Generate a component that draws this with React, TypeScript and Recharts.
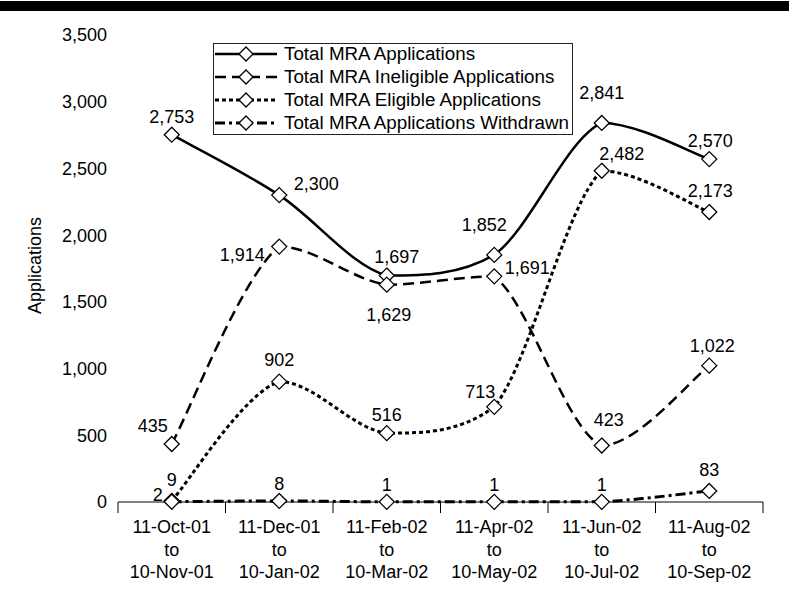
import { Legend, LabelList, Line, LineChart, XAxis, YAxis } from "recharts";

const periodStarts = ["11-Oct-01", "11-Dec-01", "11-Feb-02", "11-Apr-02", "11-Jun-02", "11-Aug-02"];
const periodEnds = ["10-Nov-01", "10-Jan-02", "10-Mar-02", "10-May-02", "10-Jul-02", "10-Sep-02"];

const totalApps = [2753, 2300, 1697, 1852, 2841, 2570];
const ineligibleApps = [435, 1914, 1629, 1691, 423, 1022];
const eligibleApps = [9, 902, 516, 713, 2482, 2173];
const withdrawnApps = [2, 8, 1, 1, 1, 83];

const yTicks = [0, 500, 1000, 1500, 2000, 2500, 3000, 3500];

const data = periodStarts.map((_, i) => ({
  idx: i,
  total: totalApps[i],
  ineligible: ineligibleApps[i],
  eligible: eligibleApps[i],
  withdrawn: withdrawnApps[i],
}));

// ticks at the category centres (labels) and at the boundaries (tick marks)
const xTicks = periodStarts.flatMap((_, i) => [i - 0.5, i]).concat(periodStarts.length - 0.5);

const FONT = "'Liberation Sans', Arial, sans-serif";

// label offsets from the point
const totalOffsets = [[0, -18], [37, -11], [10, -19], [-10, -30], [0, -30], [1, -18]];
const ineligibleOffsets = [[-19, -18], [-37, 8], [2, 30], [33, -8], [7, -26], [3, -20]];
const eligibleOffsets = [[0, -21], [0, -22], [0, -18], [-14, -15], [20, -17], [1, -21]];
const withdrawnOffsets = [[-14, -7], [0, -17], [0, -17], [0, -17], [0, -17], [0, -21]];

const series = [
  { key: "total", name: "Total MRA Applications", dash: undefined, width: 2.5, offsets: totalOffsets },
  { key: "ineligible", name: "Total MRA Ineligible Applications", dash: "11 6", width: 2.5, offsets: ineligibleOffsets },
  { key: "eligible", name: "Total MRA Eligible Applications", dash: "4 3", width: 3, offsets: eligibleOffsets },
  { key: "withdrawn", name: "Total MRA Applications Withdrawn", dash: "10 4 3 4", width: 3, offsets: withdrawnOffsets },
];

const clamp = (v: number, a: number, b: number) => Math.min(Math.max(v, Math.min(a, b)), Math.max(a, b));

// smoothed line like the old Excel one: Catmull-Rom handles, kept inside each segment's height
const excelCurve = (context: any) => {
  let pts: [number, number][] = [];
  return {
    areaStart() {},
    areaEnd() {},
    lineStart() {
      pts = [];
    },
    lineEnd() {
      if (!pts.length) return;
      context.moveTo(pts[0][0], pts[0][1]);
      for (let i = 0; i < pts.length - 1; i++) {
        const p0 = pts[Math.max(i - 1, 0)];
        const p1 = pts[i];
        const p2 = pts[i + 1];
        const p3 = pts[Math.min(i + 2, pts.length - 1)];
        const c1y = clamp(p1[1] + (p2[1] - p0[1]) / 6, p1[1], p2[1]);
        const c2y = clamp(p2[1] - (p3[1] - p1[1]) / 6, p1[1], p2[1]);
        context.bezierCurveTo(
          p1[0] + (p2[0] - p0[0]) / 6,
          c1y,
          p2[0] - (p3[0] - p1[0]) / 6,
          c2y,
          p2[0],
          p2[1]
        );
      }
    },
    point(x: number, y: number) {
      pts.push([+x, +y]);
    },
  };
};

const Diamond = ({ cx, cy, r = 7.5 }: { cx: number; cy: number; r?: number }) => (
  <polygon
    points={`${cx},${cy - r} ${cx + r},${cy} ${cx},${cy + r} ${cx - r},${cy}`}
    fill="#fff"
    stroke="#000"
    strokeWidth={1.3}
  />
);

const renderDot = (props: any) => {
  const { cx, cy, index, dataKey } = props;
  if (cx == null || cy == null) return <g key={`${dataKey}-${index}`} />;
  return <Diamond key={`${dataKey}-${index}`} cx={cx} cy={cy} />;
};

const makeLabel = (offsets: number[][]) => (props: any) => {
  const { x, y, value, index } = props;
  const [dx, dy] = offsets[index] || [0, -18];
  return (
    <text
      x={Number(x) + dx}
      y={Number(y) + dy}
      textAnchor="middle"
      dominantBaseline="central"
      fontSize={18}
      fill="#000"
      fontFamily={FONT}
    >
      {Number(value).toLocaleString("en-US")}
    </text>
  );
};

const XTick = (props: any) => {
  const { x, y, payload } = props;
  const v = payload.value;
  if (!Number.isInteger(v)) {
    return <line x1={x} x2={x} y1={y} y2={y + 11} stroke="#000" strokeWidth={1} />;
  }
  return (
    <text x={x} y={y} textAnchor="middle" fontSize={18} fill="#000" fontFamily={FONT}>
      <tspan x={x} dy={31}>{periodStarts[v]}</tspan>
      <tspan x={x} dy={23}>to</tspan>
      <tspan x={x} dy={22}>{periodEnds[v]}</tspan>
    </text>
  );
};

const LegendBox = () => (
  <div
    style={{
      width: 360,
      height: 92,
      border: "1px solid #222",
      boxSizing: "border-box",
      background: "#fff",
      fontFamily: FONT,
      fontSize: 18.8,
      color: "#000",
    }}
  >
    <div style={{ position: "relative", top: -2 }}>
      {series.map((s) => (
        <div key={s.key} style={{ display: "flex", alignItems: "center", height: 23, whiteSpace: "nowrap" }}>
          <svg width={62} height={18} style={{ marginLeft: 1, marginRight: 7 }}>
            <line x1={0} x2={62} y1={9} y2={9} stroke="#000" strokeWidth={s.width} strokeDasharray={s.dash} />
            <Diamond cx={31} cy={9} r={7} />
          </svg>
          <span>{s.name}</span>
        </div>
      ))}
    </div>
  </div>
);

export default function App() {
  return (
    <div
      style={{
        position: "absolute",
        left: 0,
        top: 0,
        width: 789,
        height: 605,
        background: "#fff",
        fontFamily: FONT,
      }}
    >
      <div style={{ position: "absolute", left: 0, top: 1, width: 789, height: 10, background: "#000" }} />
      <LineChart width={789} height={605} data={data} margin={{ top: 35, right: 26, bottom: 0, left: 0 }}>
        <XAxis
          dataKey="idx"
          type="number"
          domain={[-0.5, 5.5]}
          ticks={xTicks}
          interval={0}
          allowDataOverflow
          tickLine={false}
          tickSize={0}
          tickMargin={0}
          height={103}
          axisLine={{ stroke: "#000", strokeWidth: 1 }}
          tick={<XTick />}
        />
        <YAxis
          domain={[0, 3500]}
          ticks={yTicks}
          interval={0}
          width={118}
          axisLine={false}
          tickLine={false}
          tickSize={6}
          tickMargin={5}
          tick={{ fill: "#000", fontSize: 18, fontFamily: FONT }}
          tickFormatter={(v: number) => v.toLocaleString("en-US")}
          label={{
            value: "Applications",
            content: (p: any) => {
              const vb = p.viewBox || { y: 35, height: 467 };
              const cy = vb.y + vb.height / 2 - 3;
              return (
                <text
                  x={35}
                  y={cy}
                  transform={`rotate(-90 35 ${cy})`}
                  textAnchor="middle"
                  dominantBaseline="central"
                  fontSize={18}
                  fill="#000"
                  fontFamily={FONT}
                >
                  Applications
                </text>
              );
            },
          }}
        />
        <Legend
          layout="vertical"
          align="center"
          verticalAlign="middle"
          wrapperStyle={{ position: "absolute", left: 213, top: 43, width: 360, height: 92 }}
          content={<LegendBox />}
        />
        {series.map((s) => (
          <Line
            key={s.key}
            dataKey={s.key}
            name={s.name}
            type={excelCurve as any}
            stroke="#000"
            strokeWidth={s.width}
            strokeDasharray={s.dash}
            dot={renderDot}
            activeDot={false}
            isAnimationActive={false}
          >
            <LabelList dataKey={s.key} content={makeLabel(s.offsets)} />
          </Line>
        ))}
      </LineChart>
    </div>
  );
}
